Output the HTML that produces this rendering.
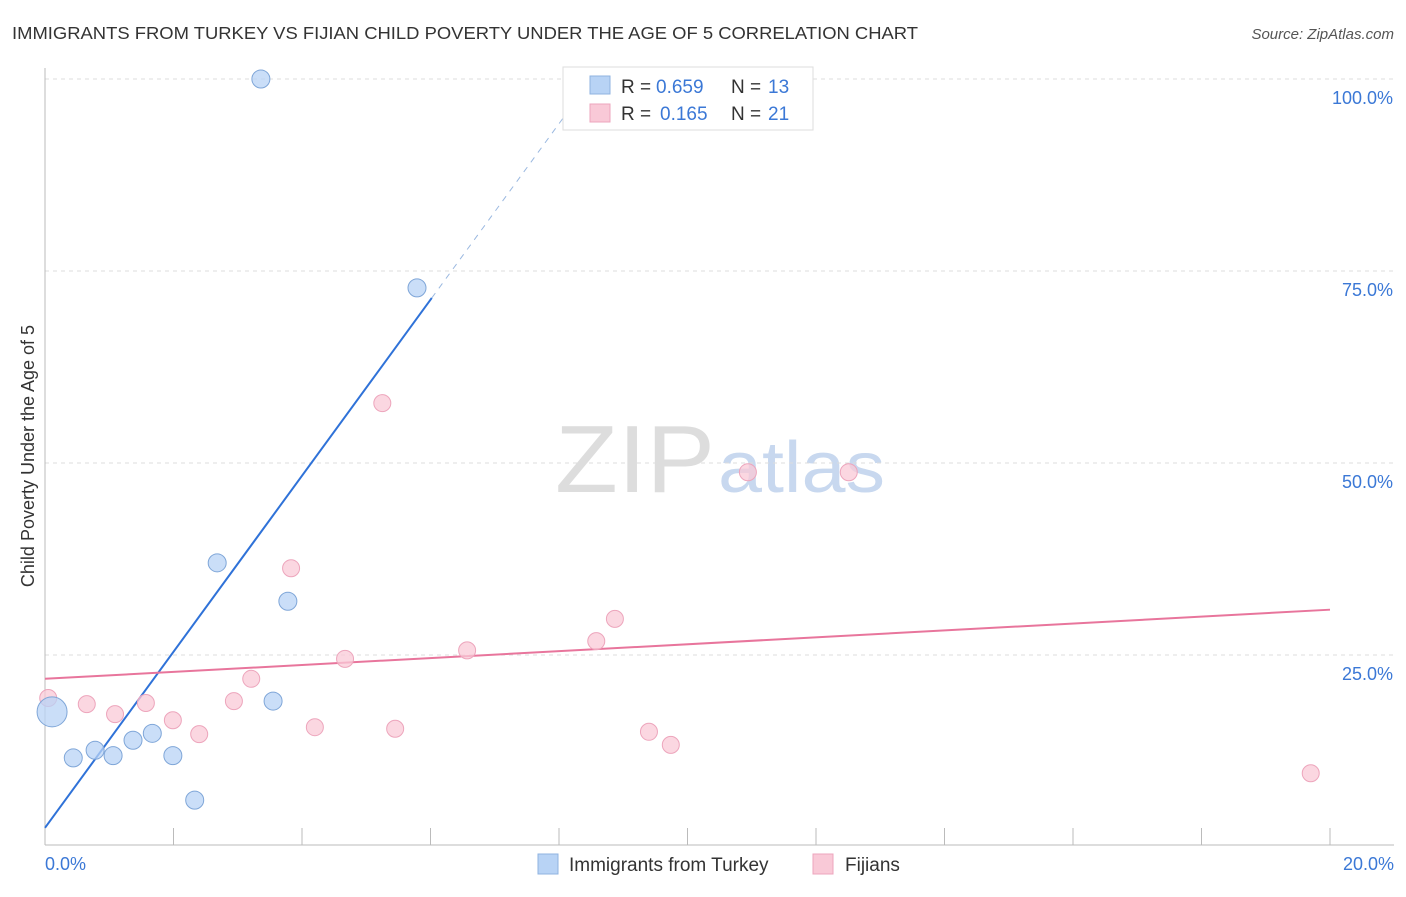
<!DOCTYPE html>
<html><head><meta charset="utf-8"><style>
body{margin:0;background:#fff;font-family:"Liberation Sans",sans-serif;}
svg text{font-family:"Liberation Sans",sans-serif;}
</style></head><body>
<svg width="1406" height="892" xmlns="http://www.w3.org/2000/svg" id="chart">
<text x="12" y="39" font-size="17.5" fill="#333" textLength="906" lengthAdjust="spacingAndGlyphs">IMMIGRANTS FROM TURKEY VS FIJIAN CHILD POVERTY UNDER THE AGE OF 5 CORRELATION CHART</text>
<text x="1394" y="39" font-size="15" fill="#555" font-style="italic" text-anchor="end">Source: ZipAtlas.com</text>
<text x="555" y="492" font-size="96" fill="#ddd" font-family="Liberation Serif" textLength="160" lengthAdjust="spacingAndGlyphs">ZIP</text>
<text x="718" y="492" font-size="72" fill="#c8d8ef" textLength="167" lengthAdjust="spacingAndGlyphs">atlas</text>
<g id="grid"></g>
<line x1="45" y1="68" x2="45" y2="845" stroke="#bbb"/>
<line x1="45" y1="845" x2="1394" y2="845" stroke="#bbb"/>
<text transform="translate(34,456) rotate(-90)" font-size="18" fill="#333" text-anchor="middle">Child Poverty Under the Age of 5</text>
<text x="45" y="870" font-size="18" fill="#3b78d6">0.0%</text>
<text x="1394" y="870" font-size="18" fill="#3b78d6" text-anchor="end">20.0%</text>
<g id="lines"></g>
<g id="points"></g>
<g>
<rect x="563" y="67" width="250" height="63" fill="#fff" stroke="#ddd"/>
<rect x="590" y="76" width="20" height="18" fill="#b8d3f5" stroke="#8fb3e0"/>
<rect x="590" y="104" width="20" height="18" fill="#f9c9d7" stroke="#eda5bc"/>
<text x="621" y="93" font-size="19" fill="#333">R =</text>
<text x="656" y="93" font-size="19" fill="#3b78d6">0.659</text>
<text x="731" y="93" font-size="19" fill="#333">N =</text>
<text x="768" y="93" font-size="19" fill="#3b78d6">13</text>
<text x="621" y="120" font-size="19" fill="#333">R =</text>
<text x="660" y="120" font-size="19" fill="#3b78d6">0.165</text>
<text x="731" y="120" font-size="19" fill="#333">N =</text>
<text x="768" y="120" font-size="19" fill="#3b78d6">21</text>
</g>
<g>
<rect x="538" y="854" width="20" height="20" fill="#b8d3f5" stroke="#8fb3e0"/>
<text x="569" y="871" font-size="19" fill="#333">Immigrants from Turkey</text>
<rect x="813" y="854" width="20" height="20" fill="#f9c9d7" stroke="#eda5bc"/>
<text x="845" y="871" font-size="19" fill="#333">Fijians</text>
</g>
</svg>
<script>
const yTicks=[25,50,75,100];
const yTickLabels=["25.0%","50.0%","75.0%","100.0%"];
const xTicks=[2,4,6,8,10,12,14,16,18,20];
const blueX=[0.11,0.44,0.78,1.06,1.37,1.67,1.99,2.33,2.68,3.36,3.55,3.78,5.79];
const blueY=[17.6,11.6,12.6,11.9,13.9,14.8,11.9,6.1,37.0,100,19.0,32.0,72.8];
const blueSize=[15,9,9,9,9,9,9,9,9,9,9,9,9];
const pinkX=[0.05,0.65,1.09,1.57,1.99,2.40,2.94,3.21,3.83,4.20,4.67,5.25,5.45,6.57,8.58,8.87,9.40,9.74,10.94,12.51,19.70];
const pinkY=[19.4,18.6,17.3,18.75,16.5,14.7,19.0,21.9,36.3,15.6,24.5,57.8,15.4,25.6,26.8,29.7,15.0,13.3,48.8,48.8,9.6];
const blueFit=[2.5,11.46];
const pinkFit=[21.9,0.45];
const ns="http://www.w3.org/2000/svg";
const X=v=>45+v*64.25, Y=v=>847-v*7.68;
function mk(t,a,p){const e=document.createElementNS(ns,t);for(const k in a)e.setAttribute(k,a[k]);p.appendChild(e);return e;}
const grid=document.getElementById('grid');
yTicks.forEach((t,i)=>{
 const l=mk('line',{x1:45,x2:1394,y1:Y(t),y2:Y(t),stroke:'#ddd','stroke-dasharray':'4,4'},grid);
 
 
 const tx=mk('text',{x:1393,y:Y(t)+25,'font-size':18,fill:'#3b78d6','text-anchor':'end'},grid);
 tx.textContent=yTickLabels[i];
 
 
});
xTicks.forEach(t=>{
 const l=mk('line',{x1:X(t),x2:X(t),y1:828,y2:845,stroke:'#bbb'},grid);
 
 
});
const lines=document.getElementById('lines');
const bx1=6.02;
let l1=mk('line',{x1:X(0),y1:Y(blueFit[0]),x2:X(bx1),y2:Y(blueFit[0]+blueFit[1]*bx1),stroke:'#2f72d8','stroke-width':2},lines);


let l2=mk('line',{x1:X(bx1),y1:Y(blueFit[0]+blueFit[1]*bx1),x2:X(8.5),y2:Y(blueFit[0]+blueFit[1]*8.5),stroke:'#9ab8e0','stroke-width':1,'stroke-dasharray':'6,6'},lines);


let l3=mk('line',{x1:X(0),y1:Y(pinkFit[0]),x2:X(20),y2:Y(pinkFit[0]+pinkFit[1]*20),stroke:'#e8759c','stroke-width':2},lines);


const pts=document.getElementById('points');
pinkX.forEach((v,i)=>{
 const c=mk('circle',{cx:X(v),cy:Y(pinkY[i]),r:8.5,fill:'#f9c9d7','fill-opacity':0.75,stroke:'#eda5bc'},pts);
 
 
});
blueX.forEach((v,i)=>{
 const c=mk('circle',{cx:X(v),cy:Y(blueY[i]),r:blueSize[i],fill:'#b8d3f5','fill-opacity':0.75,stroke:'#7fa6d8'},pts);
 
 
});
</script>
</body></html>
